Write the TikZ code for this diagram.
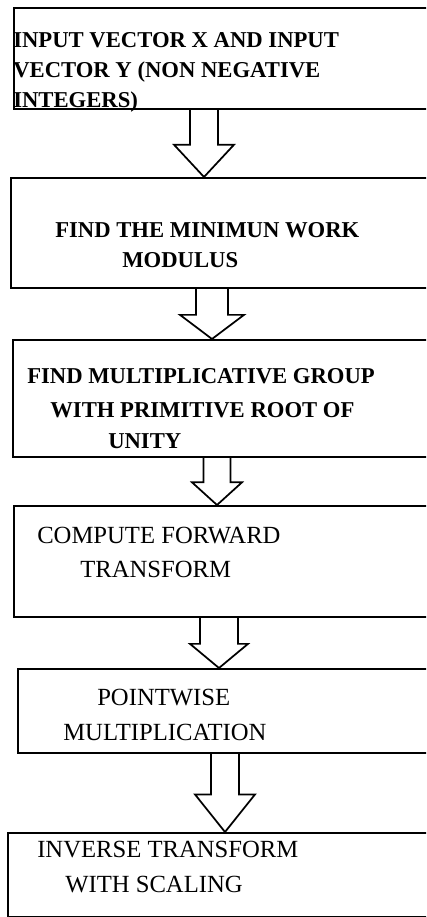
\documentclass[tikz,border=0pt]{standalone}
\usepackage{fontspec}
\setmainfont{Liberation Serif}
\usetikzlibrary{calc}

\tikzset{
  box/.style={draw, line width=1.3pt, inner sep=0pt, anchor=north west},
  arrowline/.style={draw, line width=1.3pt, line join=miter},
  labelbold/.style={font=\fontsize{17}{20}\selectfont\bfseries, inner sep=0pt, anchor=base west},
  labelreg/.style={font=\fontsize{18.5}{22}\selectfont, inner sep=0pt, anchor=base west}
}

% hollow block arrow: from, to, centre x, half shaft, half head (all in px)
\newcommand{\hollowarrow}[5]{%
  \draw[arrowline] let \p1=(#1.south), \p2=(#2.north),
      \p3=($(#1.south)!0.52!(#2.north)$) in
    ({(#3-#4)*0.75pt},\y1) -- ({(#3-#4)*0.75pt},\y3) -- ({(#3-#5)*0.75pt},\y3)
    -- ({#3*0.75pt},\y2) -- ({(#3+#5)*0.75pt},\y3) -- ({(#3+#4)*0.75pt},\y3)
    -- ({(#3+#4)*0.75pt},\y1);}

\begin{document}
\begin{tikzpicture}[x=0.75pt,y=-0.75pt]
  \fill[white] (0,0) rectangle (426,917);
  \useasboundingbox (0,0) rectangle (426,917);
  \clip (0,0) rectangle (426,917);

  % boxes
  \node[box, minimum width=320.25pt, minimum height=75.75pt] (b1) at (13,7) {};
  \node[box, minimum width=322.5pt, minimum height=82.5pt] (b2) at (10,177) {};
  \node[box, minimum width=321pt, minimum height=87.75pt] (b3) at (12,339) {};
  \node[box, minimum width=320.25pt, minimum height=83.25pt] (b4) at (13,505) {};
  \node[box, minimum width=317.25pt, minimum height=63pt] (b5) at (17,668) {};
  \node[box, minimum width=324.75pt, minimum height=63pt] (b6) at (7,832) {};

  % texts
  \node[labelbold] (t1a) at (13,48) {INPUT VECTOR X AND INPUT};
  \node[labelbold] (t1b) at (13,78) {VECTOR Y (NON NEGATIVE};
  \node[labelbold] (t1c) at (13,108) {INTEGERS)};

  \node[labelbold] (t2a) at (55,237) {FIND THE MINIMUN WORK};
  \node[labelbold] (t2b) at (122,267) {MODULUS};

  \node[labelbold] (t3a) at (27,383) {FIND MULTIPLICATIVE GROUP};
  \node[labelbold] (t3b) at (50,417) {WITH PRIMITIVE ROOT OF};
  \node[labelbold] (t3c) at (108,448) {UNITY};

  \node[labelreg] (t4a) at (37,543) {COMPUTE FORWARD};
  \node[labelreg] (t4b) at (80,577) {TRANSFORM};

  \node[labelreg] (t5a) at (97,705) {POINTWISE};
  \node[labelreg] (t5b) at (63,740) {MULTIPLICATION};

  \node[labelreg] (t6a) at (37,857) {INVERSE TRANSFORM};
  \node[labelreg] (t6b) at (65,892) {WITH SCALING};

  % arrows
  \hollowarrow{b1}{b2}{204}{14}{30}
  \hollowarrow{b2}{b3}{212}{16}{32}
  \hollowarrow{b3}{b4}{217}{13.5}{25}
  \hollowarrow{b4}{b5}{219}{19}{29}
  \hollowarrow{b5}{b6}{225}{14}{30}
\end{tikzpicture}
\end{document}
